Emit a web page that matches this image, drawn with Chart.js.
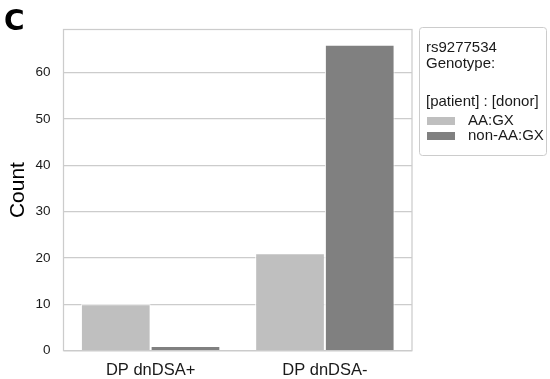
<!DOCTYPE html>
<html>
<head>
<meta charset="utf-8">
<script src="https://cdn.jsdelivr.net/npm/chart.js@4/dist/chart.umd.min.js"></script>
<style>
  html, body { margin: 0; padding: 0; background: #fff; }
  #wrap { width: 550px; height: 379px; position: relative; }
</style>
</head>
<body>
<div id="wrap"><canvas id="chart-genotype"></canvas></div>
<script>
// data
var categories = ["DP dnDSA+", "DP dnDSA-"];
var seriesNames = ["AA:GX", "non-AA:GX"];
var aaCounts = [10, 21];
var nonAaCounts = [1, 66];
var yTicks = [0, 10, 20, 30, 40, 50, 60];
var legendTitle = ["rs9277534", "Genotype:", "", "[patient] : [donor]"];
var panelLetter = "C";
var yTitle = "Count";

var colors = ["#bfbfbf", "#808080"];
var font = "'Liberation Sans', Arial, sans-serif";

// spines + letter + legend box
var decor = {
    id: "decor",
    beforeDatasetsDraw: function(chart) {
        var a = chart.chartArea, ctx = chart.ctx;
        ctx.save();
        ctx.strokeStyle = "#cccccc";
        ctx.lineWidth = 1.25;
        ctx.strokeRect(a.left, a.top, a.right - a.left, a.bottom - a.top);
        ctx.restore();
    },
    afterDraw: function(chart) {
        var ctx = chart.ctx;
        ctx.save();
        ctx.fillStyle = "#000";
        ctx.font = "bold 28px 'DejaVu Sans', sans-serif";
        ctx.textBaseline = "middle";
        ctx.textAlign = "left";
        ctx.fillText(panelLetter, 4, 23);

        // legend
        var x = 419.5, y = 27.5, w = 127, h = 128;
        ctx.strokeStyle = "#cccccc";
        ctx.lineWidth = 1;
        ctx.fillStyle = "#fff";
        ctx.beginPath();
        ctx.roundRect(x, y, w, h, 3);
        ctx.fill();
        ctx.stroke();

        ctx.fillStyle = "#1a1a1a";
        ctx.font = "15px " + font;
        ctx.textBaseline = "middle";
        var lineY = [48, 64, 84, 102];
        legendTitle.forEach(function(t, i) {
            ctx.fillText(t, 426, lineY[i]);
        });
        var itemY = [121, 136];
        seriesNames.forEach(function(n, i) {
            ctx.fillStyle = colors[i];
            ctx.fillRect(427, itemY[i] - 4, 28, 8);
            ctx.fillStyle = "#1a1a1a";
            ctx.fillText(n, 468, itemY[i]);
        });
        ctx.restore();
    }
};

new Chart(document.getElementById("chart-genotype"), {
    type: "bar",
    data: {
        labels: categories,
        datasets: [{
            label: seriesNames[0],
            data: aaCounts,
            backgroundColor: colors[0],
            borderColor: "#ffffff",
            borderWidth: 1
        }, {
            label: seriesNames[1],
            data: nonAaCounts,
            backgroundColor: colors[1],
            borderColor: "#ffffff",
            borderWidth: 1
        }]
    },
    options: {
        responsive: true,
        maintainAspectRatio: false,
        animation: false,
        layout: { padding: { left: 0, right: 138, top: 29.5, bottom: 0 } },
        datasets: { bar: { categoryPercentage: 0.8, barPercentage: 1 } },
        plugins: {
            legend: { display: false },
            tooltip: { enabled: false }
        },
        scales: {
            x: {
                grid: { display: false, drawTicks: false },
                border: { display: false },
                ticks: {
                    color: "#1a1a1a",
                    font: { family: font, size: 16.5 },
                    padding: 10
                },
                afterFit: function(s) { s.height = 28.3; }
            },
            y: {
                min: 0,
                max: 69.3,
                afterBuildTicks: function(s) {
                    s.ticks = yTicks.map(function(v) { return { value: v }; });
                },
                grid: { color: "#cccccc", lineWidth: 1.25, drawTicks: false },
                border: { display: false },
                ticks: {
                    color: "#1a1a1a",
                    font: { family: font, size: 13.5 },
                    padding: 13
                },
                title: {
                    display: true,
                    text: yTitle,
                    color: "#000",
                    font: { family: font, size: 21 },
                    padding: { top: 6, bottom: 0 }
                },
                afterFit: function(s) { s.width = 63.5; }
            }
        }
    },
    plugins: [decor]
});
</script>
</body>
</html>
